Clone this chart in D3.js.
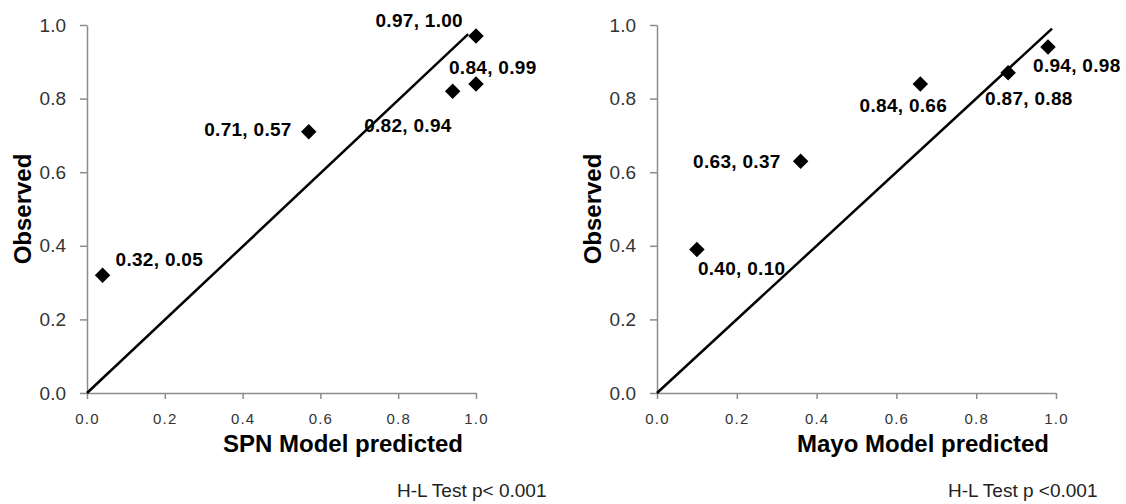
<!DOCTYPE html>
<html>
<head>
    <title>Calibration plots</title>
    <script src="https://d3js.org/d3.v7.min.js"></script>
    <style>
        body { margin: 0; background: #fff; }
        .tick text { fill: #333; }
        .domain, .tick line { stroke: #8c8c8c; stroke-width: 1.5; }
    </style>
</head>
<body>
    <div id="chart"></div>

    <script>
        // ---- data ----
        var ticks = [0, 0.2, 0.4, 0.6, 0.8, 1.0];

        var spnPredicted = [0.04, 0.57, 1.00, 1.00, 0.94];
        var spnObserved  = [0.32, 0.71, 0.97, 0.84, 0.82];
        var spnLabels    = ["0.32, 0.05", "0.71, 0.57", "0.97, 1.00", "0.84, 0.99", "0.82, 0.94"];
        var spnRefLine   = [[0, 0], [0.98, 0.975]];

        var mayoPredicted = [0.10, 0.36, 0.66, 0.88, 0.98];
        var mayoObserved  = [0.39, 0.63, 0.84, 0.87, 0.94];
        var mayoLabels    = ["0.40, 0.10", "0.63, 0.37", "0.84, 0.66", "0.87, 0.88", "0.94, 0.98"];
        var mayoRefLine   = [[0, 0], [0.99, 0.99]];

        var xTitles = ["SPN Model predicted", "Mayo Model predicted"];
        var yTitle = "Observed";
        var hlTexts = ["H-L Test p< 0.001", "H-L Test p <0.001"];

        // ---- layout ----
        var panels = [
            {
                x0: 87, x1: 476, y0: 393, y1: 25,
                pred: spnPredicted, obs: spnObserved, labels: spnLabels, ref: spnRefLine,
                // label offsets from each point: dx, dy, anchor
                offs: [[13, -16, "start"], [-17, -2, "end"], [-13, -16, "end"], [-27, -16, "start"], [-1, 34, "end"]],
                xTitle: xTitles[0], xTitleX: 343, yTitleX: 22, hl: hlTexts[0], hlX: 397
            },
            {
                x0: 657, x1: 1056, y0: 393, y1: 25,
                pred: mayoPredicted, obs: mayoObserved, labels: mayoLabels, ref: mayoRefLine,
                offs: [[1, 19, "start"], [-20, 0, "end"], [-17, 22, "middle"], [-23, 26, "start"], [-15, 18, "start"]],
                xTitle: xTitles[1], xTitleX: 923, yTitleX: 592, hl: hlTexts[1], hlX: 948
            }
        ];

        var svg = d3.select("#chart").append("svg")
            .attr("width", 1126)
            .attr("height", 504)
            .style("font-family", "'Liberation Sans', Arial, sans-serif");

        panels.forEach(function(p) {
            var x = d3.scaleLinear().domain([0, 1]).range([p.x0, p.x1]);
            var y = d3.scaleLinear().domain([0, 1]).range([p.y0, p.y1]);

            var g = svg.append("g");

            // y axis
            var ya = g.append("g")
                .attr("transform", "translate(" + p.x0 + ",0)")
                .call(d3.axisLeft(y).tickValues(ticks).tickFormat(d3.format(".1f"))
                    .tickSize(7).tickSizeOuter(0).tickPadding(14));
            ya.selectAll("text").style("font-size", "19px");

            // x axis
            var xa = g.append("g")
                .attr("transform", "translate(0," + p.y0 + ")")
                .call(d3.axisBottom(x).tickValues(ticks).tickFormat(d3.format(".1f"))
                    .tickSize(6).tickSizeOuter(0).tickPadding(14));
            xa.selectAll("text").style("font-size", "15px").style("letter-spacing", "1.2px");

            // reference line
            g.append("path")
                .datum(p.ref)
                .attr("fill", "none")
                .attr("stroke", "#000")
                .attr("stroke-width", 2.5)
                .attr("d", d3.line().x(function(d) { return x(d[0]); }).y(function(d) { return y(d[1]); }));

            var pts = p.pred.map(function(v, i) { return { x: v, y: p.obs[i], label: p.labels[i], off: p.offs[i] }; });

            // diamonds
            g.selectAll(".pt")
                .data(pts)
                .enter().append("path")
                .attr("class", "pt")
                .attr("d", d3.symbol().type(d3.symbolSquare).size(120))
                .attr("transform", function(d) { return "translate(" + x(d.x) + "," + y(d.y) + ") rotate(45)"; })
                .attr("fill", "#000");

            // point labels
            g.selectAll(".lbl")
                .data(pts)
                .enter().append("text")
                .attr("class", "lbl")
                .attr("x", function(d) { return x(d.x) + d.off[0]; })
                .attr("y", function(d) { return y(d.y) + d.off[1]; })
                .attr("text-anchor", function(d) { return d.off[2]; })
                .attr("dominant-baseline", "central")
                .style("font-size", "19px")
                .style("font-weight", "bold")
                .style("letter-spacing", "0.3px")
                .text(function(d) { return d.label; });

            // axis titles
            g.append("text")
                .attr("x", p.xTitleX)
                .attr("y", 443)
                .attr("text-anchor", "middle")
                .attr("dominant-baseline", "central")
                .style("font-size", "24px")
                .style("font-weight", "bold")
                .text(p.xTitle);

            g.append("text")
                .attr("transform", "translate(" + p.yTitleX + ",209) rotate(-90)")
                .attr("text-anchor", "middle")
                .attr("dominant-baseline", "central")
                .style("font-size", "24px")
                .style("font-weight", "bold")
                .text(yTitle);

            // H-L test note
            g.append("text")
                .attr("x", p.hlX)
                .attr("y", 490)
                .attr("dominant-baseline", "central")
                .style("font-size", "19px")
                .style("fill", "#222")
                .text(p.hl);
        });
    </script>
</body>
</html>
